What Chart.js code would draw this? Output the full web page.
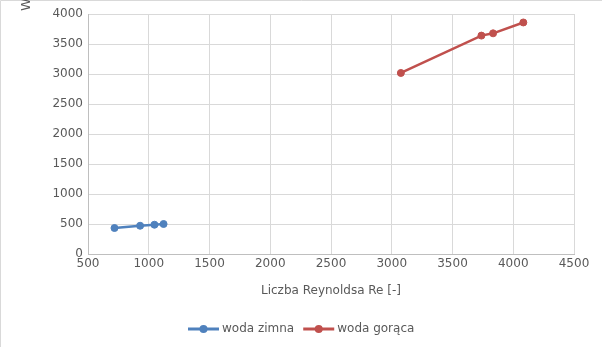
<!DOCTYPE html>
<html>
<head>
<meta charset="utf-8">
<script src="https://cdn.jsdelivr.net/npm/chart.js@4/dist/chart.umd.min.js"></script>
<style>
  html, body { margin: 0; padding: 0; background: #fff; }
  #wrap { width: 602px; height: 347px; position: relative; }
</style>
</head>
<body>
<div id="wrap"><canvas id="chart"></canvas></div>
<script>
'use strict';

// data
let seriesNames = ['woda zimna', 'woda gorąca'];
let coldRe = [718, 929, 1047, 1122];
let coldVal = [433, 471, 488, 500];
let hotRe = [3075, 3738, 3834, 4083];
let hotVal = [3017, 3640, 3678, 3859];
let xTicks = [500, 1000, 1500, 2000, 2500, 3000, 3500, 4000, 4500];
let yTicks = [0, 500, 1000, 1500, 2000, 2500, 3000, 3500, 4000];
let xTitle = 'Liczba Reynoldsa Re [-]';
let yTitle = 'Współczynnik wnikania ciepła α [W/(m²·K)]';

let colors = ['#4f81bd', '#c0504d'];
let textColor = '#595959';
let gridColor = '#d9d9d9';
let fontFamily = '"DejaVu Sans", sans-serif';

function toPoints(xs, ys) {
  let pts = [];
  for (let i = 0; i < xs.length; i++) {
    pts.push({ x: xs[i], y: ys[i] });
  }
  return pts;
}

// border, cut-off y title and the legend (line + dot + name)
let extras = {
  id: 'extras',
  afterDraw(chart) {
    let c = chart.ctx;
    c.save();
    c.strokeStyle = gridColor;
    c.lineWidth = 1;
    c.beginPath();
    c.moveTo(0.5, chart.height);
    c.lineTo(0.5, 0.5);
    c.lineTo(chart.width, 0.5);
    c.stroke();

    c.font = '12px ' + fontFamily;
    c.fillStyle = textColor;

    // legend
    let lineLen = 31;
    let gap = 3;
    let itemGap = 9;
    let widths = seriesNames.map(n => c.measureText(n).width);
    let total = 0;
    for (let i = 0; i < widths.length; i++) {
      total += lineLen + gap + widths[i];
    }
    total += itemGap * (widths.length - 1);
    let x = Math.round(chart.width / 2 - total / 2);
    let y = 329;
    for (let i = 0; i < seriesNames.length; i++) {
      c.strokeStyle = colors[i];
      c.lineWidth = 3;
      c.beginPath();
      c.moveTo(x, y);
      c.lineTo(x + lineLen, y);
      c.stroke();
      c.fillStyle = colors[i];
      c.beginPath();
      c.arc(x + lineLen / 2, y, 4, 0, Math.PI * 2);
      c.fill();
      c.fillStyle = textColor;
      c.textAlign = 'left';
      c.textBaseline = 'middle';
      c.fillText(seriesNames[i], x + lineLen + gap, y);
      x += lineLen + gap + widths[i] + itemGap;
    }

    // y title, only its first letter shows in the original
    c.translate(30, 11);
    c.rotate(-Math.PI / 2);
    c.font = '13px ' + fontFamily;
    c.textAlign = 'left';
    c.textBaseline = 'alphabetic';
    c.fillText(yTitle, 0, 0);
    c.restore();
  }
};

let ctx = document.getElementById('chart').getContext('2d');

let chartObject = {
  type: 'scatter',
  data: {
    datasets: [{
      label: seriesNames[0],
      data: toPoints(coldRe, coldVal),
      showLine: true,
      borderColor: colors[0],
      backgroundColor: colors[0],
      borderWidth: 2.5,
      pointRadius: 3.5,
      pointBorderWidth: 1,
      tension: 0
    }, {
      label: seriesNames[1],
      data: toPoints(hotRe, hotVal),
      showLine: true,
      borderColor: colors[1],
      backgroundColor: colors[1],
      borderWidth: 2.5,
      pointRadius: 3.5,
      pointBorderWidth: 1,
      tension: 0
    }]
  },
  options: {
    responsive: true,
    maintainAspectRatio: false,
    animation: false,
    layout: { padding: { left: 0, right: 28, top: 14, bottom: 47 } },
    plugins: {
      tooltip: { enabled: false },
      legend: { display: false }
    },
    scales: {
      x: {
        type: 'linear',
        min: 500,
        max: 4500,
        afterBuildTicks(axis) {
          axis.ticks = xTicks.map(v => ({ value: v }));
        },
        afterFit(axis) {
          axis.height = 46;
        },
        ticks: {
          color: textColor,
          font: { size: 12, family: fontFamily },
          padding: 3,
          maxRotation: 0,
          callback: v => String(v)
        },
        grid: { color: gridColor, drawTicks: false },
        border: { color: '#bfbfbf' },
        title: {
          display: true,
          text: xTitle,
          color: textColor,
          font: { size: 12, family: fontFamily },
          padding: { top: 10, bottom: 2 }
        }
      },
      y: {
        type: 'linear',
        min: 0,
        max: 4000,
        afterBuildTicks(axis) {
          axis.ticks = yTicks.map(v => ({ value: v }));
        },
        afterFit(axis) {
          axis.width = 88;
        },
        ticks: {
          color: textColor,
          font: { size: 12, family: fontFamily },
          padding: 5,
          callback: v => String(v)
        },
        grid: { color: gridColor, drawTicks: false },
        border: { color: '#bfbfbf' }
      }
    }
  },
  plugins: [extras]
};

const myChart = new Chart(ctx, chartObject);
</script>
</body>
</html>
